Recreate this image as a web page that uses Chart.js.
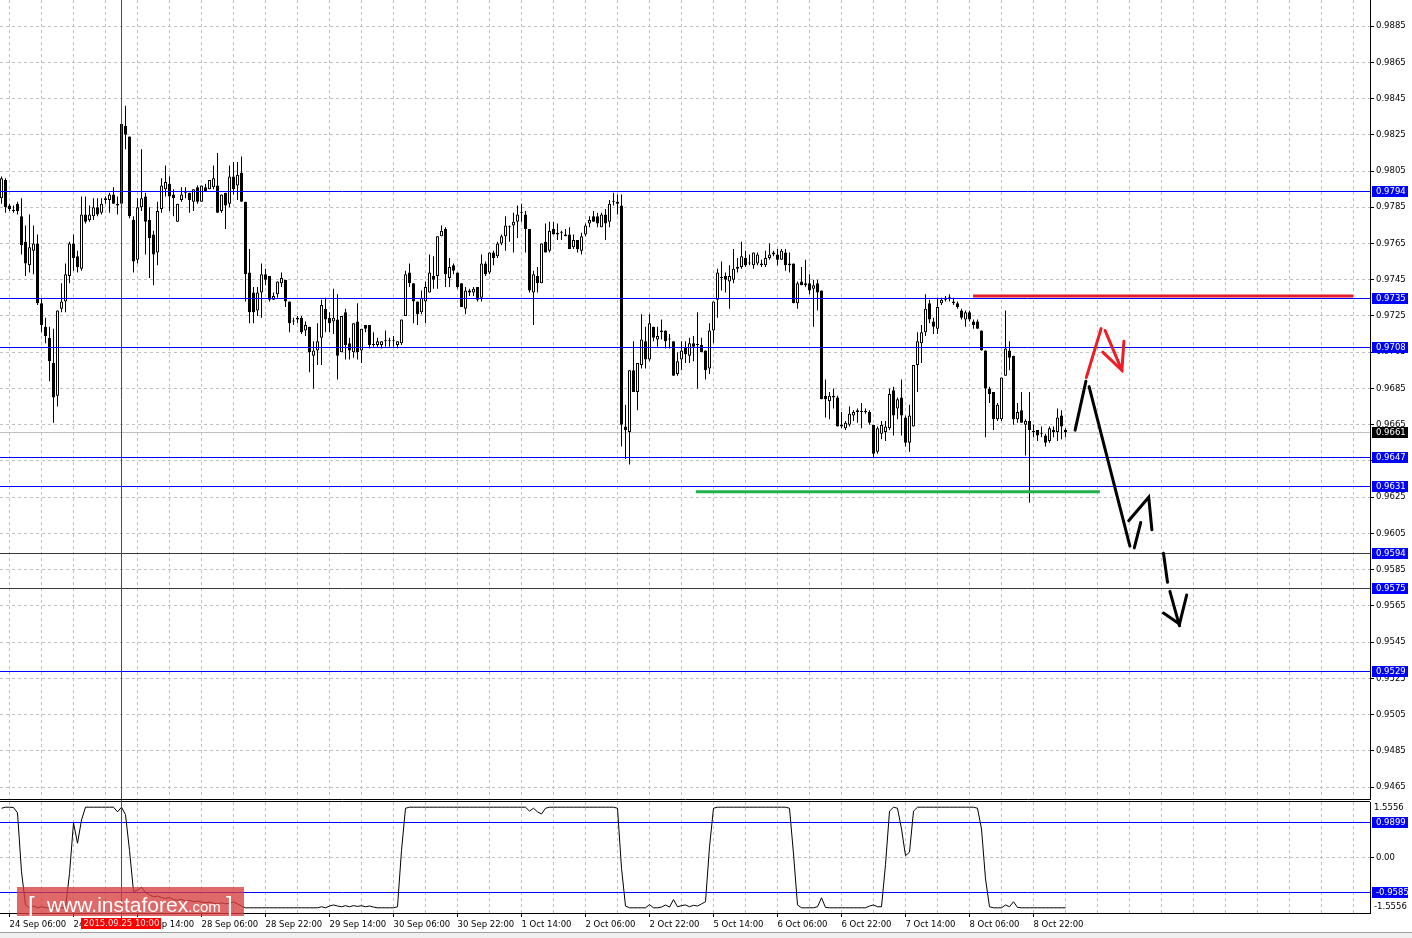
<!DOCTYPE html>
<html>
<head>
<meta charset="utf-8">
<title>H1 chart</title>
<script src="https://cdn.jsdelivr.net/npm/chart.js"></script>
<style>
  html, body { margin: 0; padding: 0; background: #ffffff; }
  #wrap { position: relative; width: 1412px; height: 938px; overflow: hidden; }
  #price { position: absolute; left: 0; top: 0; }
  #osc { position: absolute; left: 0; top: 800px; }
</style>
</head>
<body>
<div id="wrap">
  <canvas id="price" width="1412" height="800"></canvas>
  <canvas id="osc" width="1412" height="138"></canvas>
</div>
<script>
// hourly bars, index 0 = 24 Sep 04:00
const openP = [
  0.9790, 0.9800, 0.9786, 0.9783, 0.9787, 0.9780, 0.9766, 0.9753, 0.9761, 0.9765,
  0.9732, 0.9719, 0.9713, 0.9699, 0.9681, 0.9729, 0.9733, 0.9747, 0.9765, 0.9758,
  0.9751, 0.9781, 0.9778, 0.9780, 0.9785, 0.9782, 0.9789, 0.9789, 0.9792, 0.9787,
  0.9787, 0.9830, 0.9824, 0.9778, 0.9756, 0.9785, 0.9791, 0.9778, 0.9770, 0.9760,
  0.9784, 0.9795, 0.9798, 0.9792, 0.9777, 0.9789, 0.9793, 0.9793, 0.9788, 0.9796,
  0.9788, 0.9796, 0.9795, 0.9796, 0.9797, 0.9783, 0.9793, 0.9787, 0.9802, 0.9797,
  0.9804, 0.9788, 0.9749, 0.9738, 0.9728, 0.9738, 0.9748, 0.9747, 0.9734, 0.9737,
  0.9743, 0.9745, 0.9733, 0.9722, 0.9723, 0.9724, 0.9717, 0.9719, 0.9703, 0.9706,
  0.9713, 0.9729, 0.9724, 0.9722, 0.9723, 0.9705, 0.9727, 0.9710, 0.9705, 0.9722,
  0.9706, 0.9720, 0.9720, 0.9709, 0.9709, 0.9709, 0.9711, 0.9711, 0.9711, 0.9709,
  0.9710, 0.9725, 0.9749, 0.9743, 0.9733, 0.9727, 0.9733, 0.9738, 0.9747, 0.9747,
  0.9769, 0.9773, 0.9746, 0.9753, 0.9749, 0.9743, 0.9729, 0.9738, 0.9738, 0.9741,
  0.9735, 0.9754, 0.9749, 0.9760, 0.9758, 0.9765, 0.9769, 0.9774, 0.9775, 0.9777,
  0.9782, 0.9781, 0.9773, 0.9738, 0.9747, 0.9743, 0.9766, 0.9761, 0.9773, 0.9771,
  0.9771, 0.9770, 0.9770, 0.9763, 0.9767, 0.9761, 0.9770, 0.9776, 0.9780, 0.9780,
  0.9774, 0.9781, 0.9777, 0.9788, 0.9788, 0.9786, 0.9664, 0.9661, 0.9695, 0.9683,
  0.9698, 0.9711, 0.9701, 0.9719, 0.9712, 0.9716, 0.9717, 0.9712, 0.9711, 0.9693,
  0.9701, 0.9708, 0.9703, 0.9710, 0.9709, 0.9709, 0.9706, 0.9696, 0.9717, 0.9734,
  0.9746, 0.9747, 0.9744, 0.9745, 0.9751, 0.9752, 0.9757, 0.9754, 0.9753, 0.9754,
  0.9754, 0.9753, 0.9757, 0.9760, 0.9759, 0.9756, 0.9760, 0.9753, 0.9754, 0.9732,
  0.9744, 0.9743, 0.9743, 0.9740, 0.9743, 0.9739, 0.9681, 0.9678, 0.9681, 0.9680,
  0.9665, 0.9663, 0.9665, 0.9670, 0.9672, 0.9672, 0.9672, 0.9672, 0.9665, 0.9650,
  0.9660, 0.9661, 0.9663, 0.9684, 0.9674, 0.9680, 0.9669, 0.9655, 0.9664, 0.9698,
  0.9710, 0.9716, 0.9732, 0.9722, 0.9718, 0.9732, 0.9734, 0.9735, 0.9733, 0.9732,
  0.9728, 0.9723, 0.9727, 0.9722, 0.9722, 0.9717, 0.9706, 0.9685, 0.9683, 0.9668,
  0.9668, 0.9692, 0.9706, 0.9703, 0.9668, 0.9673, 0.9665, 0.9667, 0.9661, 0.9662,
  0.9660, 0.9659, 0.9656, 0.9662, 0.9661, 0.9670, 0.9662
];
const highP = [
  0.9802, 0.9801, 0.9787, 0.9786, 0.9788, 0.9790, 0.9775, 0.9781, 0.9775, 0.9770,
  0.9735, 0.9724, 0.9719, 0.9718, 0.9728, 0.9743, 0.9754, 0.9766, 0.9770, 0.9761,
  0.9791, 0.9791, 0.9786, 0.9790, 0.9790, 0.9790, 0.9791, 0.9793, 0.9796, 0.9791,
  0.9832, 0.9841, 0.9824, 0.9780, 0.9790, 0.9817, 0.9793, 0.9785, 0.9772, 0.9788,
  0.9801, 0.9808, 0.9802, 0.9795, 0.9787, 0.9796, 0.9796, 0.9793, 0.9795, 0.9797,
  0.9797, 0.9798, 0.9800, 0.9808, 0.9815, 0.9792, 0.9793, 0.9808, 0.9810, 0.9810,
  0.9813, 0.9788, 0.9762, 0.9741, 0.9741, 0.9754, 0.9751, 0.9747, 0.9738, 0.9744,
  0.9749, 0.9745, 0.9733, 0.9724, 0.9725, 0.9725, 0.9722, 0.9719, 0.9711, 0.9721,
  0.9734, 0.9735, 0.9727, 0.9740, 0.9737, 0.9725, 0.9729, 0.9713, 0.9721, 0.9732,
  0.9718, 0.9720, 0.9720, 0.9716, 0.9713, 0.9711, 0.9717, 0.9713, 0.9714, 0.9711,
  0.9723, 0.9750, 0.9754, 0.9743, 0.9733, 0.9739, 0.9744, 0.9759, 0.9758, 0.9769,
  0.9775, 0.9774, 0.9757, 0.9754, 0.9749, 0.9743, 0.9741, 0.9740, 0.9741, 0.9741,
  0.9759, 0.9755, 0.9760, 0.9761, 0.9766, 0.9770, 0.9780, 0.9775, 0.9782, 0.9786,
  0.9787, 0.9783, 0.9773, 0.9750, 0.9752, 0.9765, 0.9776, 0.9777, 0.9777, 0.9776,
  0.9772, 0.9773, 0.9774, 0.9770, 0.9767, 0.9771, 0.9776, 0.9780, 0.9783, 0.9782,
  0.9782, 0.9784, 0.9789, 0.9793, 0.9792, 0.9792, 0.9676, 0.9695, 0.9711, 0.9699,
  0.9726, 0.9719, 0.9726, 0.9719, 0.9719, 0.9723, 0.9717, 0.9715, 0.9711, 0.9705,
  0.9711, 0.9711, 0.9713, 0.9714, 0.9727, 0.9713, 0.9706, 0.9721, 0.9733, 0.9751,
  0.9755, 0.9749, 0.9753, 0.9762, 0.9757, 0.9766, 0.9761, 0.9759, 0.9760, 0.9760,
  0.9756, 0.9761, 0.9765, 0.9761, 0.9762, 0.9762, 0.9762, 0.9760, 0.9754, 0.9744,
  0.9752, 0.9756, 0.9748, 0.9745, 0.9745, 0.9739, 0.9690, 0.9683, 0.9685, 0.9681,
  0.9672, 0.9667, 0.9675, 0.9673, 0.9674, 0.9677, 0.9674, 0.9673, 0.9665, 0.9664,
  0.9667, 0.9667, 0.9685, 0.9686, 0.9680, 0.9690, 0.9670, 0.9676, 0.9698, 0.9716,
  0.9720, 0.9737, 0.9734, 0.9724, 0.9735, 0.9735, 0.9736, 0.9737, 0.9735, 0.9733,
  0.9729, 0.9728, 0.9728, 0.9723, 0.9723, 0.9717, 0.9706, 0.9686, 0.9683, 0.9677,
  0.9691, 0.9728, 0.9711, 0.9703, 0.9677, 0.9683, 0.9668, 0.9683, 0.9665, 0.9662,
  0.9664, 0.9660, 0.9664, 0.9664, 0.9674, 0.9673, 0.9663
];
const lowP = [
  0.9787, 0.9782, 0.9783, 0.9782, 0.9781, 0.9759, 0.9747, 0.9749, 0.9748, 0.9731,
  0.9716, 0.9710, 0.9689, 0.9666, 0.9675, 0.9727, 0.9727, 0.9743, 0.9750, 0.9749,
  0.9750, 0.9776, 0.9777, 0.9778, 0.9780, 0.9781, 0.9787, 0.9782, 0.9787, 0.9781,
  0.9786, 0.9817, 0.9779, 0.9749, 0.9754, 0.9783, 0.9759, 0.9746, 0.9742, 0.9753,
  0.9782, 0.9791, 0.9783, 0.9780, 0.9777, 0.9788, 0.9790, 0.9782, 0.9783, 0.9787,
  0.9788, 0.9794, 0.9795, 0.9795, 0.9782, 0.9782, 0.9773, 0.9785, 0.9792, 0.9789,
  0.9788, 0.9733, 0.9721, 0.9721, 0.9725, 0.9724, 0.9742, 0.9733, 0.9734, 0.9735,
  0.9741, 0.9730, 0.9716, 0.9720, 0.9721, 0.9715, 0.9714, 0.9694, 0.9685, 0.9698,
  0.9698, 0.9716, 0.9716, 0.9715, 0.9690, 0.9705, 0.9701, 0.9701, 0.9702, 0.9701,
  0.9699, 0.9716, 0.9707, 0.9708, 0.9708, 0.9707, 0.9708, 0.9708, 0.9708, 0.9707,
  0.9709, 0.9725, 0.9741, 0.9721, 0.9720, 0.9726, 0.9721, 0.9738, 0.9740, 0.9740,
  0.9769, 0.9741, 0.9741, 0.9748, 0.9740, 0.9730, 0.9726, 0.9736, 0.9736, 0.9733,
  0.9733, 0.9747, 0.9748, 0.9753, 0.9757, 0.9764, 0.9761, 0.9766, 0.9760, 0.9768,
  0.9777, 0.9760, 0.9738, 0.9720, 0.9738, 0.9743, 0.9760, 0.9760, 0.9770, 0.9767,
  0.9767, 0.9769, 0.9762, 0.9762, 0.9760, 0.9759, 0.9769, 0.9774, 0.9777, 0.9774,
  0.9774, 0.9767, 0.9774, 0.9786, 0.9781, 0.9653, 0.9646, 0.9643, 0.9683, 0.9673,
  0.9696, 0.9696, 0.9700, 0.9711, 0.9708, 0.9712, 0.9707, 0.9707, 0.9692, 0.9692,
  0.9695, 0.9699, 0.9699, 0.9700, 0.9685, 0.9705, 0.9690, 0.9693, 0.9710, 0.9724,
  0.9739, 0.9738, 0.9729, 0.9743, 0.9749, 0.9751, 0.9752, 0.9753, 0.9751, 0.9753,
  0.9752, 0.9752, 0.9756, 0.9758, 0.9753, 0.9756, 0.9750, 0.9749, 0.9732, 0.9729,
  0.9742, 0.9741, 0.9737, 0.9719, 0.9728, 0.9679, 0.9669, 0.9668, 0.9674, 0.9664,
  0.9663, 0.9662, 0.9664, 0.9667, 0.9666, 0.9663, 0.9671, 0.9665, 0.9647, 0.9649,
  0.9657, 0.9656, 0.9662, 0.9659, 0.9668, 0.9659, 0.9653, 0.9650, 0.9664, 0.9683,
  0.9699, 0.9714, 0.9721, 0.9715, 0.9715, 0.9731, 0.9733, 0.9733, 0.9731, 0.9729,
  0.9723, 0.9719, 0.9722, 0.9718, 0.9718, 0.9706, 0.9658, 0.9677, 0.9662, 0.9667,
  0.9667, 0.9692, 0.9695, 0.9665, 0.9666, 0.9666, 0.9648, 0.9622, 0.9658, 0.9656,
  0.9658, 0.9653, 0.9655, 0.9658, 0.9656, 0.9657, 0.9658
];
const closeP = [
  0.9801, 0.9785, 0.9784, 0.9783, 0.9783, 0.9764, 0.9754, 0.9763, 0.9765, 0.9732,
  0.9720, 0.9714, 0.9700, 0.9680, 0.9728, 0.9733, 0.9748, 0.9765, 0.9757, 0.9752,
  0.9781, 0.9777, 0.9781, 0.9785, 0.9781, 0.9787, 0.9790, 0.9792, 0.9787, 0.9786,
  0.9831, 0.9825, 0.9780, 0.9755, 0.9785, 0.9790, 0.9777, 0.9768, 0.9759, 0.9783,
  0.9797, 0.9799, 0.9791, 0.9790, 0.9787, 0.9792, 0.9793, 0.9789, 0.9795, 0.9788,
  0.9797, 0.9794, 0.9800, 0.9801, 0.9782, 0.9792, 0.9786, 0.9802, 0.9795, 0.9803,
  0.9788, 0.9748, 0.9727, 0.9727, 0.9738, 0.9748, 0.9745, 0.9734, 0.9736, 0.9744,
  0.9746, 0.9733, 0.9721, 0.9722, 0.9724, 0.9716, 0.9720, 0.9705, 0.9706, 0.9711,
  0.9731, 0.9723, 0.9721, 0.9724, 0.9703, 0.9725, 0.9709, 0.9706, 0.9721, 0.9705,
  0.9718, 0.9718, 0.9709, 0.9709, 0.9711, 0.9711, 0.9711, 0.9711, 0.9711, 0.9711,
  0.9723, 0.9748, 0.9743, 0.9733, 0.9726, 0.9735, 0.9741, 0.9749, 0.9745, 0.9769,
  0.9772, 0.9748, 0.9752, 0.9750, 0.9741, 0.9730, 0.9739, 0.9739, 0.9740, 0.9734,
  0.9754, 0.9748, 0.9760, 0.9757, 0.9765, 0.9769, 0.9775, 0.9774, 0.9777, 0.9781,
  0.9782, 0.9773, 0.9739, 0.9748, 0.9743, 0.9765, 0.9760, 0.9772, 0.9770, 0.9770,
  0.9771, 0.9769, 0.9762, 0.9767, 0.9762, 0.9769, 0.9775, 0.9778, 0.9777, 0.9776,
  0.9781, 0.9776, 0.9787, 0.9788, 0.9787, 0.9665, 0.9662, 0.9695, 0.9683, 0.9699,
  0.9712, 0.9701, 0.9721, 0.9713, 0.9714, 0.9717, 0.9711, 0.9712, 0.9692, 0.9700,
  0.9706, 0.9704, 0.9710, 0.9708, 0.9709, 0.9705, 0.9695, 0.9717, 0.9733, 0.9749,
  0.9746, 0.9745, 0.9747, 0.9751, 0.9752, 0.9758, 0.9753, 0.9754, 0.9760, 0.9759,
  0.9753, 0.9757, 0.9759, 0.9759, 0.9756, 0.9761, 0.9753, 0.9754, 0.9732, 0.9743,
  0.9742, 0.9742, 0.9739, 0.9742, 0.9738, 0.9679, 0.9679, 0.9681, 0.9680, 0.9664,
  0.9664, 0.9666, 0.9671, 0.9672, 0.9673, 0.9672, 0.9672, 0.9666, 0.9649, 0.9663,
  0.9665, 0.9664, 0.9682, 0.9670, 0.9679, 0.9670, 0.9655, 0.9670, 0.9698, 0.9711,
  0.9716, 0.9729, 0.9723, 0.9719, 0.9730, 0.9734, 0.9735, 0.9735, 0.9732, 0.9730,
  0.9724, 0.9727, 0.9723, 0.9720, 0.9718, 0.9706, 0.9685, 0.9682, 0.9668, 0.9676,
  0.9691, 0.9707, 0.9702, 0.9668, 0.9672, 0.9666, 0.9667, 0.9662, 0.9661, 0.9659,
  0.9660, 0.9655, 0.9663, 0.9661, 0.9669, 0.9664, 0.9661
];

// oscillator in the lower window, one value per bar
const oscValues = [
  1.38, 1.41, 1.41, 1.40, 1.25, -0.40, -1.33, -1.41, -1.36, -1.41,
  -1.38, -1.41, -1.41, -1.41, -1.41, -1.41, -1.41, -0.45, 0.97, 0.40,
  1.05, 1.41, 1.41, 1.41, 1.41, 1.41, 1.41, 1.41, 1.41, 1.28,
  1.41, 1.20, 0.20, -0.95, -0.92, -0.83, -0.98, -1.05, -1.10, -1.08,
  -1.12, -1.15, -1.12, -1.18, -1.20, -1.17, -1.22, -1.20, -1.24, -1.22,
  -1.25, -1.27, -1.25, -1.28, -1.30, -1.27, -1.30, -1.28, -1.25, -1.30,
  -1.36, -1.41, -1.41, -1.41, -1.41, -1.41, -1.41, -1.41, -1.41, -1.41,
  -1.41, -1.41, -1.41, -1.41, -1.41, -1.41, -1.41, -1.41, -1.41, -1.41,
  -1.38, -1.41, -1.36, -1.33, -1.36, -1.38, -1.35, -1.38, -1.35, -1.37,
  -1.35, -1.38, -1.36, -1.39, -1.41, -1.41, -1.41, -1.41, -1.41, -1.38,
  0.20, 1.38, 1.41, 1.41, 1.41, 1.41, 1.41, 1.41, 1.41, 1.41,
  1.41, 1.41, 1.41, 1.41, 1.41, 1.41, 1.41, 1.41, 1.41, 1.41,
  1.41, 1.41, 1.41, 1.41, 1.41, 1.41, 1.41, 1.41, 1.41, 1.41,
  1.41, 1.41, 1.30, 1.38, 1.28, 1.22, 1.38, 1.41, 1.41, 1.41,
  1.41, 1.41, 1.41, 1.41, 1.41, 1.41, 1.41, 1.41, 1.41, 1.41,
  1.41, 1.41, 1.41, 1.41, 1.38, -0.30, -1.36, -1.41, -1.41, -1.41,
  -1.41, -1.41, -1.32, -1.41, -1.41, -1.39, -1.33, -1.39, -1.18, -1.38,
  -1.35, -1.33, -1.38, -1.34, -1.36, -1.30, -1.24, 0.30, 1.38, 1.41,
  1.41, 1.41, 1.41, 1.41, 1.41, 1.41, 1.41, 1.41, 1.41, 1.41,
  1.41, 1.41, 1.41, 1.41, 1.41, 1.41, 1.41, 1.38, 0.10, -1.33,
  -1.41, -1.41, -1.41, -1.41, -1.38, -1.13, -1.40, -1.41, -1.41, -1.41,
  -1.41, -1.41, -1.41, -1.41, -1.41, -1.41, -1.41, -1.36, -1.33, -1.38,
  -1.38, -0.20, 1.30, 1.41, 1.38, 0.80, 0.05, 0.15, 1.30, 1.41,
  1.41, 1.41, 1.41, 1.41, 1.41, 1.41, 1.41, 1.41, 1.41, 1.41,
  1.41, 1.41, 1.41, 1.41, 1.38, 0.80, -0.60, -1.38, -1.41, -1.41,
  -1.41, -1.33, -1.38, -1.24, -1.40, -1.41, -1.41, -1.41, -1.41, -1.41,
  -1.41, -1.41, -1.41, -1.41, -1.41, -1.41, -1.41
];

// time axis labels, one every 16 bars starting at bar 2
const timeLabels = [
  '24 Sep 06:00', '24 Sep 22:00', '25 Sep 14:00', '28 Sep 06:00', '28 Sep 22:00',
  '29 Sep 14:00', '30 Sep 06:00', '30 Sep 22:00', '1 Oct 14:00', '2 Oct 06:00',
  '2 Oct 22:00', '5 Oct 14:00', '6 Oct 06:00', '6 Oct 22:00', '7 Oct 14:00',
  '8 Oct 06:00', '8 Oct 22:00'
];
const priceTicks = [
  0.9885, 0.9865, 0.9845, 0.9825, 0.9805, 0.9785, 0.9765, 0.9745, 0.9725, 0.9705,
  0.9685, 0.9665, 0.9645, 0.9625, 0.9605, 0.9585, 0.9565, 0.9545, 0.9525, 0.9505,
  0.9485, 0.9465
];

// horizontal levels
const blueLevels = [0.9794, 0.9735, 0.9708, 0.9647, 0.9631, 0.9529];
const darkLevels = [0.9594, 0.9575];
const bidPrice = 0.9661;
const oscLevels = [0.9899, -0.9585];
const oscRange = 1.5556;

// drawn objects: [bar index, price]
const resistanceLine = [[242.9, 0.9736], [337.9, 0.9736]];
const supportLine = [[173.6, 0.9628], [274.6, 0.9628]];
const redStrokes = [
  [[271.2, 0.9691], [274.9, 0.9718]],
  [[275.9, 0.9717], [280.1, 0.9695]],
  [[275.3, 0.9705], [280.1, 0.9695], [280.6, 0.9711]]
];
const blackStrokes = [
  [[268.4, 0.9662], [271.1, 0.9689]],
  [[271.9, 0.9686], [282.1, 0.9598]],
  [[281.8, 0.9612], [286.8, 0.9625], [287.6, 0.9607]],
  [[283.2, 0.9597], [284.8, 0.9611]],
  [[290.5, 0.9594], [291.5, 0.9578]],
  [[292.1, 0.9573], [294.5, 0.9554]],
  [[290.5, 0.9561], [294.5, 0.9555], [296.3, 0.9571]]
];

const crossIndex = 30;
const crossLabel = '2015.09.25 10:00';

// visible window: 342.5 bar slots
const X_MIN = -0.375, X_MAX = 342.125;
const PRICE_MIN = 0.94584, PRICE_MAX = 0.98994;

Chart.defaults.font.family = '"DejaVu Sans", sans-serif';
Chart.defaults.font.size = 8.5;
Chart.defaults.color = '#000000';

const GRID = '#c0c0c0';

function gridTicks(scale) {
  const t = [];
  for (let v = 2; v <= X_MAX; v += 8) t.push({ value: v });
  scale.ticks = t;
}
function timeLabel(value) {
  const k = (value - 2) / 16;
  return Number.isInteger(k) && k < timeLabels.length ? timeLabels[k] : '';
}
function hLine(ctx, area, py, color) {
  const yy = Math.round(py) + 0.5;
  ctx.strokeStyle = color;
  ctx.lineWidth = 1;
  ctx.beginPath();
  ctx.moveTo(area.left, yy);
  ctx.lineTo(area.right, yy);
  ctx.stroke();
}
function priceTag(ctx, scale, value, text, bg) {
  const top = Math.round(scale.getPixelForValue(value)) - 5;
  ctx.fillStyle = bg;
  ctx.fillRect(scale.left + 2, top, 36, 11);
  ctx.fillStyle = '#ffffff';
  ctx.textAlign = 'left';
  ctx.textBaseline = 'middle';
  ctx.font = '8.5px "DejaVu Sans"';
  ctx.fillText(text, scale.left + 6, top + 6);
}
function vCross(ctx, xScale, top, bottom) {
  const xx = Math.floor(xScale.getPixelForValue(crossIndex)) + 0.5;
  ctx.strokeStyle = '#ff0000';
  ctx.lineWidth = 1;
  ctx.beginPath();
  ctx.moveTo(xx, top);
  ctx.lineTo(xx, bottom);
  ctx.stroke();
}
function strokeSet(points, color, order) {
  return {
    type: 'line',
    data: points.map(p => ({ x: p[0], y: p[1] })),
    borderColor: color,
    borderWidth: 3,
    borderCapStyle: 'round',
    pointRadius: 0,
    tension: 0,
    order: order
  };
}

// ---------- price window ----------
const wicks = closeP.map((c, i) => ({ x: i, y: [lowP[i], highP[i]] }));
const bodies = closeP.map((c, i) => ({ x: i, y: [openP[i], c] }));
const bodyFill = closeP.map((c, i) => (c > openP[i] ? '#ffffff' : '#000000'));

const priceDecor = {
  id: 'priceDecor',
  beforeDatasetsDraw(chart) {
    const { ctx, chartArea, scales } = chart;
    ctx.save();
    hLine(ctx, chartArea, scales.y.getPixelForValue(bidPrice), '#c0c0c0');
    ctx.restore();
  },
  afterDatasetDraw(chart, args) {
    if (args.index !== 1) return;
    const { ctx, chartArea, scales } = chart;
    ctx.save();
    darkLevels.forEach(v => hLine(ctx, chartArea, scales.y.getPixelForValue(v), '#3a3a3a'));
    blueLevels.forEach(v => hLine(ctx, chartArea, scales.y.getPixelForValue(v), '#0000ff'));
    ctx.restore();
  },
  afterDraw(chart) {
    const { ctx, chartArea, scales } = chart;
    ctx.save();
    vCross(ctx, scales.x, chartArea.top, chartArea.bottom);
    blueLevels.concat(darkLevels).forEach(v => priceTag(ctx, scales.y, v, v.toFixed(4), '#0000ff'));
    priceTag(ctx, scales.y, bidPrice, bidPrice.toFixed(4), '#000000');
    ctx.restore();
  }
};

const priceDatasets = [
  { type: 'bar', data: wicks, backgroundColor: '#000000', borderWidth: 0,
    barThickness: 1, grouped: false, inflateAmount: 0, order: 5 },
  { type: 'bar', data: bodies, backgroundColor: bodyFill, borderColor: '#000000',
    borderWidth: 1, borderSkipped: false, barThickness: 3, minBarLength: 1,
    grouped: false, inflateAmount: 0, order: 4 },
  strokeSet(resistanceLine, '#e31d26', 2),
  strokeSet(supportLine, '#22b14c', 2)
];
redStrokes.forEach(s => priceDatasets.push(strokeSet(s, '#ee1c24', 1)));
blackStrokes.forEach(s => priceDatasets.push(strokeSet(s, '#000000', 1)));
priceDatasets[2].borderCapStyle = 'butt';
priceDatasets[3].borderCapStyle = 'butt';

new Chart(document.getElementById('price'), {
  type: 'bar',
  data: { datasets: priceDatasets },
  options: {
    responsive: false,
    animation: false,
    events: [],
    layout: { padding: 0, autoPadding: false },
    plugins: { legend: { display: false }, tooltip: { enabled: false } },
    scales: {
      x: {
        type: 'linear', min: X_MIN, max: X_MAX, offset: false, bounds: 'data',
        afterBuildTicks: gridTicks,
        afterFit: s => { s.height = 1; s.paddingLeft = 0; s.paddingRight = 0; },
        ticks: { display: false, autoSkip: false },
        grid: { color: GRID, offset: false, drawTicks: false },
        border: { display: true, color: '#000000', dash: [3, 3] }
      },
      y: {
        type: 'linear', position: 'right', min: PRICE_MIN, max: PRICE_MAX, bounds: 'data',
        afterBuildTicks: s => { s.ticks = priceTicks.map(v => ({ value: v })); },
        afterFit: s => { s.width = 42; s.paddingTop = 0; s.paddingBottom = 0; },
        ticks: { autoSkip: false, padding: 2, callback: v => v.toFixed(4) },
        grid: { color: GRID, tickColor: '#000000', tickLength: 4 },
        border: { display: true, color: '#000000', dash: [3, 3] }
      }
    }
  },
  plugins: [priceDecor]
});

// ---------- oscillator window ----------
const oscDecor = {
  id: 'oscDecor',
  beforeDatasetsDraw(chart) {
    const { ctx, chartArea, scales } = chart;
    ctx.save();
    oscLevels.forEach(v => hLine(ctx, chartArea, scales.y.getPixelForValue(v), '#0000ff'));
    ctx.restore();
  },
  afterDraw(chart) {
    const { ctx, chartArea, scales } = chart;
    const ys = scales.y;
    ctx.save();
    // window frame top
    ctx.strokeStyle = '#000000';
    ctx.lineWidth = 1;
    ctx.beginPath();
    ctx.moveTo(0, chartArea.top - 0.5);
    ctx.lineTo(chartArea.right, chartArea.top - 0.5);
    ctx.stroke();

    vCross(ctx, scales.x, 0, chartArea.bottom + 5);

    // range labels
    ctx.fillStyle = '#000000';
    ctx.font = '8.5px "DejaVu Sans"';
    ctx.textAlign = 'left';
    ctx.textBaseline = 'middle';
    ctx.fillText(oscRange.toFixed(4), ys.left + 4, chartArea.top + 6);
    ctx.fillText((-oscRange).toFixed(4), ys.left + 4, chartArea.bottom - 6);
    oscLevels.forEach(v => priceTag(ctx, ys, v, v.toFixed(4), '#0000ff'));

    // watermark
    ctx.fillStyle = 'rgba(214,62,62,0.78)';
    ctx.fillRect(17, 87, 227, 29);
    ctx.fillStyle = '#ffffff';
    ctx.textBaseline = 'alphabetic';
    ctx.font = '24px "Liberation Sans"';
    ctx.fillText('[', 28, 113);
    ctx.fillText(']', 226, 113);
    ctx.font = '21px "Liberation Sans"';
    ctx.fillText('www.instaforex', 47, 112);
    const w = ctx.measureText('www.instaforex').width;
    ctx.font = '15px "Liberation Sans"';
    ctx.fillText('.com', 47 + w, 112);

    // cursor time tag
    const cx = scales.x.getPixelForValue(crossIndex);
    ctx.fillStyle = '#ff0000';
    ctx.fillRect(Math.round(cx) - 40, chartArea.bottom + 5, 80, 11);
    ctx.fillStyle = '#ffe8e8';
    ctx.textAlign = 'center';
    ctx.textBaseline = 'middle';
    ctx.font = '8.5px "DejaVu Sans"';
    ctx.fillText(crossLabel, cx, chartArea.bottom + 10.5);

    // tab strip at the very bottom
    ctx.fillStyle = '#f0f0f0';
    ctx.fillRect(0, 133, chart.width, 5);
    ctx.strokeStyle = '#a0a0a0';
    ctx.beginPath();
    ctx.moveTo(0, 132.5);
    ctx.lineTo(chart.width, 132.5);
    ctx.stroke();
    ctx.restore();
  }
};

new Chart(document.getElementById('osc'), {
  type: 'line',
  data: {
    datasets: [{
      data: oscValues.map((v, i) => ({ x: i, y: v })),
      borderColor: '#000000',
      borderWidth: 1,
      pointRadius: 0,
      tension: 0
    }]
  },
  options: {
    responsive: false,
    animation: false,
    events: [],
    layout: { padding: { top: 2, left: 0, right: 0, bottom: 0 }, autoPadding: false },
    plugins: { legend: { display: false }, tooltip: { enabled: false } },
    scales: {
      x: {
        type: 'linear', min: X_MIN, max: X_MAX, offset: false, bounds: 'data',
        afterBuildTicks: gridTicks,
        afterFit: s => { s.height = 25; s.paddingLeft = 0; s.paddingRight = 0; },
        ticks: { autoSkip: false, maxRotation: 0, minRotation: 0, align: 'start',
                 padding: 3, callback: v => timeLabel(v) },
        grid: {
          color: GRID, offset: false, tickLength: 4,
          tickColor: c => (c.tick && c.tick.label) ? '#000000' : 'rgba(0,0,0,0)'
        },
        border: { display: true, color: '#000000', dash: [3, 3] }
      },
      y: {
        type: 'linear', position: 'right', min: -oscRange, max: oscRange, bounds: 'data',
        afterBuildTicks: s => { s.ticks = [{ value: 0 }]; },
        afterFit: s => { s.width = 42; s.paddingTop = 0; s.paddingBottom = 0; },
        ticks: { padding: 2, callback: v => v.toFixed(2) },
        grid: { color: GRID, tickColor: '#000000', tickLength: 4 },
        border: { display: true, color: '#000000', dash: [3, 3] }
      }
    }
  },
  plugins: [oscDecor]
});
</script>
</body>
</html>
